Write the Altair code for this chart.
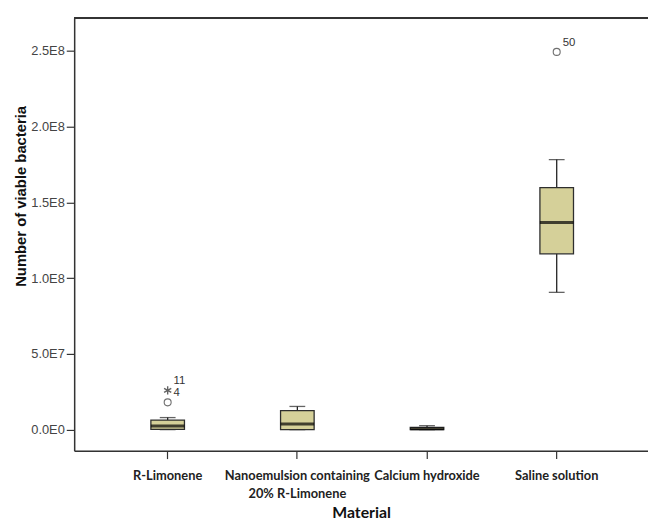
import altair as alt
import pandas as pd

# ---- data ----
materials = ["R-Limonene", "Nanoemulsion containing\n20% R-Limonene", "Calcium hydroxide", "Saline solution"]
whisker_low = [0.0, 0.0, 0.0, 9.06e7]
q1 = [1.3e5, 0.0, 0.0, 1.16e8]
median = [2.4e6, 3.7e6, 5.0e5, 1.367e8]
q3 = [6.3e6, 1.26e7, 1.5e6, 1.597e8]
whisker_high = [7.95e6, 1.53e7, 2.6e6, 1.782e8]

out_material = ["R-Limonene", "R-Limonene", "Saline solution"]
out_value = [1.8e7, 2.59e7, 2.493e8]
out_kind = ["outlier", "extreme", "outlier"]
out_label = ["4", "11", "50"]

y_ticks = [0, 5e7, 1e8, 1.5e8, 2e8, 2.5e8]

box_df = pd.DataFrame({
    "material": materials, "low": whisker_low, "q1": q1, "median": median,
    "q3": q3, "high": whisker_high,
})
out_df = pd.DataFrame({"material": out_material, "value": out_value,
                       "kind": out_kind, "label": out_label})

xenc = alt.X("material:N", sort=materials,
             scale=alt.Scale(paddingInner=0, paddingOuter=0.2125, align=0.52),
             axis=alt.Axis(title="Material", labelAngle=0,
                           labelExpr="split(datum.label, '\\n')",
                           labelFont="Lato", labelFontWeight="bold", labelFontSize=13,
                           labelColor="#222", labelPadding=11, labelLineHeight=18,
                           tickSize=8, tickColor="#333", tickWidth=1.2,
                           domainColor="#333", domainWidth=1.5,
                           titleFont="Lato", titleFontWeight="bold", titleFontSize=16,
                           titleColor="#111", titleY=63, titleBaseline="middle"))

yscale = alt.Scale(domain=[-1.39e7, 2.716e8], nice=False, zero=False)
yaxis = alt.Axis(title="Number of viable bacteria", values=y_ticks, grid=False,
                 labelExpr="replace(format(datum.value, '.1e'), 'e+', 'E')",
                 labelFont="Liberation Sans", labelFontSize=13, labelColor="#444",
                 labelPadding=2, tickSize=8, tickColor="#333", tickWidth=1.2,
                 domainColor="#333", domainWidth=1.5,
                 titleFont="Liberation Sans", titleFontWeight="bold", titleFontSize=15,
                 titleColor="#111", titleX=-54, titleY=180, titleAngle=-90,
                 titleAlign="center", titleBaseline="middle")

base = alt.Chart(box_df)

whisk_lo = base.mark_rule(color="#222", strokeWidth=1.3).encode(
    x=xenc, y=alt.Y("low:Q", scale=yscale, axis=yaxis), y2="q1:Q")
whisk_hi = base.mark_rule(color="#222", strokeWidth=1.3).encode(
    x=xenc, y=alt.Y("q3:Q"), y2="high:Q")
cap_lo = base.mark_tick(color="#222", thickness=1.3, size=16).encode(x=xenc, y="low:Q")
cap_hi = base.mark_tick(color="#222", thickness=1.3, size=16).encode(x=xenc, y="high:Q")
box = base.mark_bar(size=34, fill="#D5D099", stroke="#2e2e2e", strokeWidth=1.3).encode(
    x=xenc, y="q1:Q", y2="q3:Q")
med = base.mark_tick(color="#000", thickness=3, size=34).encode(x=xenc, y="median:Q")

outc = alt.Chart(out_df)
circ = outc.transform_filter("datum.kind == 'outlier'").mark_point(
    shape="circle", filled=False, size=50, color="#333", strokeWidth=1.1).encode(
    x=xenc, y="value:Q")
star = outc.transform_filter("datum.kind == 'extreme'").mark_point(
    shape="M0,-1L0,1M-0.87,-0.5L0.87,0.5M-0.87,0.5L0.87,-0.5", filled=False,
    size=70, color="#222", strokeWidth=1.4).encode(x=xenc, y="value:Q")
labels = outc.mark_text(align="left", baseline="middle", dx=6, dy=-9,
                        font="Liberation Sans", fontSize=11.5, fill="#333").encode(
    x=xenc, y="value:Q", text="label:N")

top_border = base.mark_rule(color="#333", strokeWidth=1.5).encode(y=alt.value(0))

chart = alt.layer(whisk_lo, whisk_hi, cap_lo, cap_hi, box, med, circ, star, labels,
                  top_border).properties(
    width=581, height=438,
    autosize=alt.AutoSizeParams(type="none"),
    padding={"left": 67, "top": 7, "right": 0, "bottom": 70},
).configure_view(strokeWidth=0).configure(background="white")

chart.save("out.html", embed_options={"renderer": "svg", "actions": False})
